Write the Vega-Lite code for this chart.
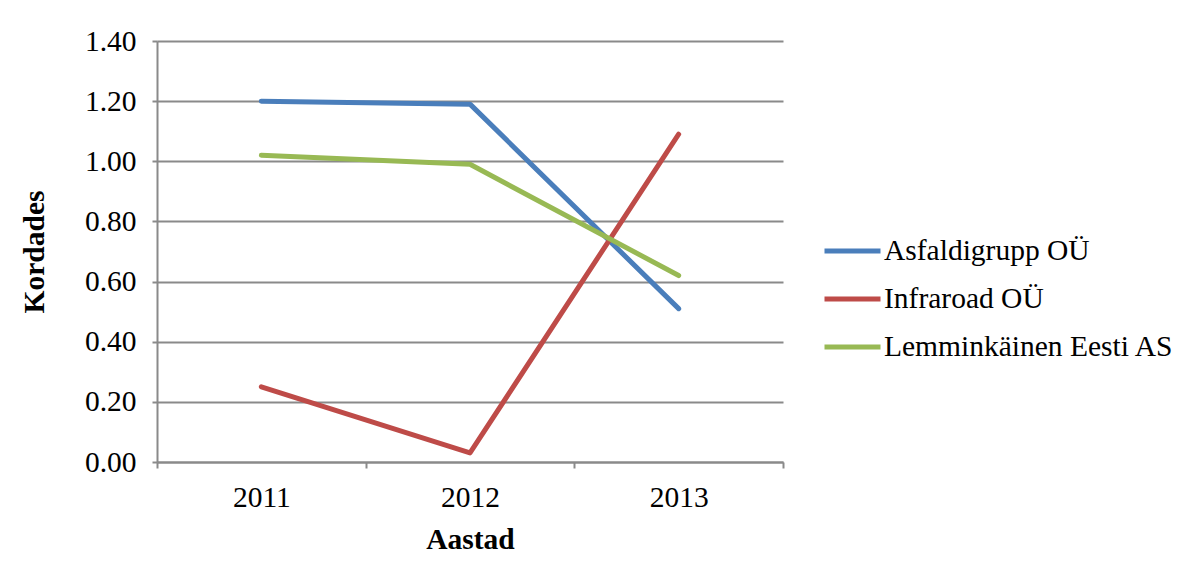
{
  "$schema": "https://vega.github.io/schema/vega-lite/v6.json",
  "autosize": {"type": "none"},
  "width": 626,
  "height": 421,
  "padding": {"left": 157, "top": 41, "right": 403, "bottom": 118},
  "background": "white",
  "config": {
    "view": {"stroke": null},
    "font": "Times New Roman, Liberation Serif, serif"
  },
  "data": {
    "values": [
      {"Aasta": "2011", "Ettevõte": "Asfaldigrupp OÜ", "Kordades": 1.20},
      {"Aasta": "2012", "Ettevõte": "Asfaldigrupp OÜ", "Kordades": 1.19},
      {"Aasta": "2013", "Ettevõte": "Asfaldigrupp OÜ", "Kordades": 0.51},
      {"Aasta": "2011", "Ettevõte": "Infraroad OÜ", "Kordades": 0.25},
      {"Aasta": "2012", "Ettevõte": "Infraroad OÜ", "Kordades": 0.03},
      {"Aasta": "2013", "Ettevõte": "Infraroad OÜ", "Kordades": 1.09},
      {"Aasta": "2011", "Ettevõte": "Lemminkäinen Eesti AS", "Kordades": 1.02},
      {"Aasta": "2012", "Ettevõte": "Lemminkäinen Eesti AS", "Kordades": 0.99},
      {"Aasta": "2013", "Ettevõte": "Lemminkäinen Eesti AS", "Kordades": 0.62}
    ]
  },
  "mark": {"type": "line", "strokeWidth": 5, "strokeCap": "round", "strokeJoin": "round"},
  "encoding": {
    "x": {
      "field": "Aasta",
      "type": "ordinal",
      "bandPosition": 0.5,
      "scale": {"type": "band", "paddingInner": 0, "paddingOuter": 0},
      "axis": {
        "title": "Aastad",
        "titleFont": "Times New Roman, Liberation Serif, serif",
        "titleFontSize": 29.5,
        "titleFontWeight": "bold",
        "titleColor": "black",
        "titlePadding": 14,
        "labelFont": "Times New Roman, Liberation Serif, serif",
        "labelFontSize": 29.5,
        "labelColor": "black",
        "labelAngle": 0,
        "labelPadding": 15,
        "tickBand": "extent",
        "tickSize": 6,
        "tickColor": "#8a8a8a",
        "tickWidth": 2,
        "domainColor": "#8a8a8a",
        "domainWidth": 2,
        "grid": false
      }
    },
    "y": {
      "field": "Kordades",
      "type": "quantitative",
      "scale": {"domain": [0, 1.4], "nice": false},
      "axis": {
        "title": "Kordades",
        "titleFont": "Times New Roman, Liberation Serif, serif",
        "titleFontSize": 29.5,
        "titleFontWeight": "bold",
        "titleColor": "black",
        "titlePadding": 35,
        "labelFont": "Times New Roman, Liberation Serif, serif",
        "labelFontSize": 29.5,
        "labelColor": "black",
        "labelPadding": 16,
        "values": [0, 0.2, 0.4, 0.6, 0.8, 1.0, 1.2, 1.4],
        "format": ".2f",
        "tickSize": 5,
        "tickColor": "#8a8a8a",
        "tickWidth": 2,
        "domainColor": "#8a8a8a",
        "domainWidth": 2,
        "grid": true,
        "gridColor": "#8a8a8a",
        "gridWidth": 2,
        "gridOpacity": 1
      }
    },
    "color": {
      "field": "Ettevõte",
      "type": "nominal",
      "scale": {
        "domain": ["Asfaldigrupp OÜ", "Infraroad OÜ", "Lemminkäinen Eesti AS"],
        "range": ["#4A7EBB", "#BE4B48", "#98B954"]
      },
      "legend": {
        "title": null,
        "orient": "none",
        "legendX": 665,
        "legendY": 195,
        "symbolType": "stroke",
        "symbolSize": 3136,
        "symbolStrokeWidth": 5,
        "clipHeight": 30,
        "rowPadding": 18,
        "labelOffset": 1,
        "labelFont": "Times New Roman, Liberation Serif, serif",
        "labelFontSize": 29.5,
        "labelColor": "black",
        "labelLimit": 400
      }
    }
  }
}
